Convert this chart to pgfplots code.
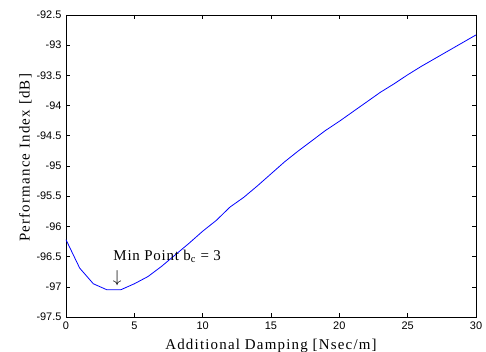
\documentclass[border=0pt]{standalone}
\usepackage{fontspec}
\setmainfont{Liberation Serif}
\newfontfamily\tickfont{Liberation Sans}
\usepackage{pgfplots}
\pgfplotsset{compat=1.18}
\begin{document}
\begin{tikzpicture}
\begin{axis}[
  scale only axis,
  width=410bp, height=302bp,
  xmin=0, xmax=30, ymin=-97.5, ymax=-92.5,
  xtick={0,5,10,15,20,25,30},
  ytick={-97.5,-97,-96.5,-96,-95.5,-95,-94.5,-94,-93.5,-93,-92.5},
  yticklabels={-97.5,-97,-96.5,-96,-95.5,-95,-94.5,-94,-93.5,-93,-92.5},
  tick align=inside,
  major tick length=4bp,
  axis line style={line width=0.9pt},
  tick style={black, line width=0.6pt},
  ticklabel style={font=\tickfont\fontsize{11}{12}\selectfont},
  /pgf/number format/assume math mode=true,
  xticklabel style={yshift=-1bp},
  yticklabel style={xshift=-1bp},
  xlabel={\addfontfeatures{LetterSpace=8}Additional Damping [Nsec/m]},
  ylabel={\addfontfeatures{LetterSpace=8}Performance Index [dB]},
  label style={font=\fontsize{15}{17}\selectfont},
  xlabel style={at={(ticklabel cs:0.5)}, yshift=-3bp},
  ylabel style={at={(ticklabel cs:0.527)}, yshift=-2bp},
  clip=false,
]
\addplot[blue, line width=0.8pt] coordinates {
(0,-96.22) (1,-96.69) (2,-96.95) (3,-97.05) (4,-97.05) (5,-96.95)
(6,-96.83) (7,-96.66) (8,-96.47) (9,-96.28) (10,-96.08) (11,-95.90)
(12,-95.68) (13,-95.52) (14,-95.33) (15,-95.13) (16,-94.93) (17,-94.75)
(18,-94.58) (19,-94.41) (20,-94.26) (21,-94.10) (22,-93.94) (23,-93.78)
(24,-93.64) (25,-93.49) (26,-93.35) (27,-93.22) (28,-93.09) (29,-92.96)
(30,-92.83)
};
\node[anchor=base west, inner sep=0pt, font=\fontsize{15}{17}\selectfont] at (axis cs:3.46,-96.57) {\addfontfeatures{LetterSpace=5}Min Point b$_{\mathrm{c}}$ = 3};
\node[inner sep=0pt, font=\fontsize{16}{18}\selectfont] at (axis cs:3.75,-96.85) {$\downarrow$};
\coordinate (ll) at (rel axis cs:0,0);
\coordinate (ur) at (rel axis cs:1,1);
\end{axis}
\pgfresetboundingbox
\path[use as bounding box] ([shift={(-66bp,-35bp)}]ll) rectangle ([shift={(10bp,15bp)}]ur);
\end{tikzpicture}
\end{document}
